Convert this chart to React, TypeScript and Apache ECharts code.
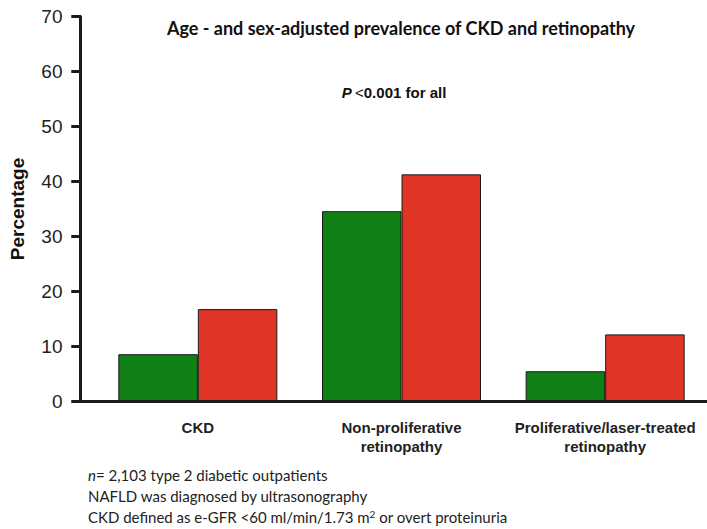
import React, { useEffect, useRef } from "react";
import * as echarts from "echarts";

const categories = ["CKD", "Non-proliferative\nretinopathy", "Proliferative/laser-treated\nretinopathy"];
const groupA = [8.6, 34.6, 5.5];
const groupB = [16.8, 41.3, 12.2];
const yTicks = { min: 0, max: 70, interval: 10 };
const tickValues = [0, 10, 20, 30, 40, 50, 60, 70];

export default function App() {
  const ref = useRef<HTMLDivElement>(null);
  useEffect(() => {
    if (!ref.current) return;
    const chart = echarts.init(ref.current, null, { renderer: "svg" });
    const axisColor = "#1a1a1a";
    chart.setOption({
      animation: false,
      backgroundColor: "#ffffff",
      grid: [
        { left: 96, right: -5.5, top: 16.5, bottom: 127.5, containLabel: false },
        { left: 80.5, width: 1, top: 16.5, bottom: 127.5, containLabel: false },
      ],
      xAxis: [
        {
          type: "category",
          gridIndex: 0,
          data: categories,
          axisLine: { show: false },
          axisTick: { show: false },
          axisLabel: {
            fontFamily: "Liberation Sans, Arial",
            fontWeight: "bold",
            fontSize: 15,
            color: "#222",
            margin: 16,
            lineHeight: 19,
            interval: 0,
          },
        },
        { type: "value", gridIndex: 1, show: false },
      ],
      yAxis: [
        {
          type: "value",
          gridIndex: 0,
          min: yTicks.min,
          max: yTicks.max,
          interval: yTicks.interval,
          show: false,
          splitLine: { show: false },
        },
        {
          type: "value",
          gridIndex: 1,
          min: yTicks.min,
          max: yTicks.max,
          interval: yTicks.interval,
          name: "Percentage",
          nameLocation: "middle",
          nameGap: 54,
          nameTextStyle: { fontFamily: "Liberation Sans, Arial", fontWeight: "bold", fontSize: 19, color: "#111" },
          axisLine: { show: true, onZero: false, lineStyle: { color: axisColor, width: 3 } },
          axisTick: { show: true, inside: false, length: 9, lineStyle: { color: axisColor, width: 3 } },
          axisLabel: { show: true, fontFamily: "Liberation Sans, Arial", fontSize: 19, color: "#222", margin: 18 },
          splitLine: { show: false },
        },
      ],
      series: [
        {
          type: "bar",
          xAxisIndex: 0,
          yAxisIndex: 0,
          data: groupA,
          barWidth: 79.5,
          barGap: "0%",
          itemStyle: { color: "#118015", borderColor: "#1a1a1a", borderWidth: 1 },
        },
        {
          type: "bar",
          xAxisIndex: 0,
          yAxisIndex: 0,
          data: groupB,
          barWidth: 79.5,
          barGap: "0%",
          itemStyle: { color: "#e03426", borderColor: "#1a1a1a", borderWidth: 1 },
        },
      ],
    });

    const axisX = 80.5;
    const tickLines = tickValues.map((v) => {
      const y = chart.convertToPixel({ yAxisIndex: 1 }, v) as number;
      return {
        type: "line",
        shape: { x1: axisX - 9, y1: y, x2: axisX, y2: y },
        style: { stroke: axisColor, lineWidth: 3 },
        z: 10,
      };
    });
    const zeroY = chart.convertToPixel({ yAxisIndex: 0 }, 0) as number;

    chart.setOption({
      graphic: [
        ...tickLines,
        {
          type: "line",
          shape: { x1: axisX - 1.5, y1: zeroY, x2: 707, y2: zeroY },
          style: { stroke: axisColor, lineWidth: 3 },
          z: 10,
        },
        {
          type: "text",
          x: 401,
          y: 28,
          style: {
            text: "Age - and sex-adjusted prevalence of CKD and retinopathy",
            fontFamily: "Lato, Open Sans",
            fontWeight: "bold",
            fontSize: 18,
            fill: "#111",
            align: "center",
            verticalAlign: "middle",
          },
        },
        {
          type: "text",
          x: 394,
          y: 92,
          style: {
            text: "{pi|P} {n|<}{b|0.001 for all}",
            align: "center",
            verticalAlign: "middle",
            rich: {
              pi: { fontFamily: "Liberation Sans, Arial", fontWeight: "bold", fontStyle: "italic", fontSize: 15, fill: "#111" },
              n: { fontFamily: "Liberation Sans, Arial", fontSize: 15, fill: "#111" },
              b: { fontFamily: "Liberation Sans, Arial", fontWeight: "bold", fontSize: 15, fill: "#111" },
            },
          },
        },
        {
          type: "text",
          x: 88,
          y: 475,
          style: {
            text: "{i|n}{r|= 2,103 type 2 diabetic outpatients}",
            verticalAlign: "middle",
            rich: {
              i: { fontFamily: "Lato, Open Sans", fontStyle: "italic", fontSize: 15, fill: "#222" },
              r: { fontFamily: "Lato, Open Sans", fontSize: 15, fill: "#222" },
            },
          },
        },
        {
          type: "text",
          x: 88,
          y: 496,
          style: {
            text: "NAFLD was diagnosed by ultrasonography",
            verticalAlign: "middle",
            fontFamily: "Lato, Open Sans",
            fontSize: 15,
            fill: "#222",
          },
        },
        {
          type: "text",
          x: 88,
          y: 517,
          style: {
            text: "{r|CKD defined as e-GFR <60 ml/min/1.73 m}{s|2}{r| or overt proteinuria}",
            verticalAlign: "middle",
            rich: {
              r: { fontFamily: "Lato, Open Sans", fontSize: 15, fill: "#222" },
              s: { fontFamily: "Lato, Open Sans", fontSize: 10, fill: "#222", verticalAlign: "top", padding: [0, 0, 7, 0] },
            },
          },
        },
      ],
    });
    return () => chart.dispose();
  }, []);
  return <div ref={ref} style={{ position: "absolute", left: 0, top: 0, width: 707, height: 529 }} />;
}
